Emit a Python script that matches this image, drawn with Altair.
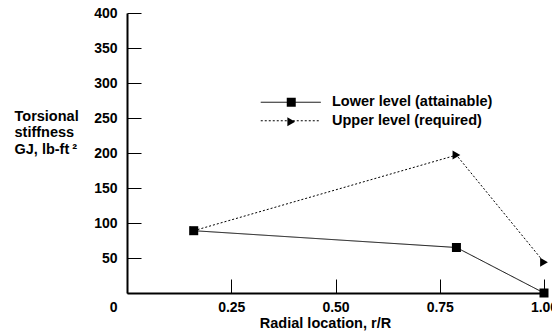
import altair as alt
import pandas as pd

# ---- data ----
series_names = ["Lower level (attainable)", "Upper level (required)"]
radial_lower = [0.16, 0.79, 1.0]
gj_lower = [89, 65, 0]
radial_upper = [0.16, 0.79, 1.0]
gj_upper = [89, 197, 44]
x_ticks = [0.25, 0.5, 0.75, 1.0]
y_ticks = [0, 50, 100, 150, 200, 250, 300, 350, 400]

df = pd.concat([
    pd.DataFrame({"r": radial_upper, "gj": gj_upper, "series": series_names[1]}),
    pd.DataFrame({"r": radial_lower, "gj": gj_lower, "series": series_names[0]}),
], ignore_index=True)

FONT = "Liberation Sans"

x_enc = alt.X("r:Q",
              scale=alt.Scale(domain=[0, 1], nice=False, zero=False),
              axis=alt.Axis(values=x_ticks, format=".2f", grid=False,
                            title="Radial location, r/R",
                            titleX=198, titleY=34, titleBaseline="alphabetic",
                            titleAlign="center",
                            labelFlush=False, labelPadding=21,
                            tickSize={"expr": "-14"}))
y_enc = alt.Y("gj:Q",
              scale=alt.Scale(domain=[0, 400], nice=False),
              axis=alt.Axis(values=y_ticks, grid=False,
                            title=["Torsional", "stiffness", "GJ, lb-ft\u2009²"],
                            titleAngle=0, titleAlign="left", titleBaseline="top",
                            titleX=-113, titleY=96, titleLineHeight=16.5,
                            labelPadding=24,
                            labelOffset={"condition": {"test": "datum.value === 0", "value": 14}, "value": 0},
                            tickSize={"expr": "-14"}))

lines = alt.Chart(df).mark_line(color="black", strokeWidth=1).encode(
    x=x_enc, y=y_enc,
    strokeDash=alt.StrokeDash("series:N",
        scale=alt.Scale(domain=series_names, range=[[1, 0], [2, 2]]),
        legend=alt.Legend(orient="none", legendX=156.5, legendY=82, title=None,
                          symbolType="M-5,0H5", symbolSize=144,
                          symbolStrokeColor="black", symbolStrokeWidth=1,
                          labelFont=FONT, labelFontSize=14.5, labelFontWeight="bold",
                          labelColor="black", labelOffset=34, labelLimit=400,
                          rowPadding=3.5)),
)

points = alt.Chart(df).mark_point(filled=True, color="black", size=81, opacity=1).encode(
    x=x_enc, y=y_enc,
    shape=alt.Shape("series:N",
        scale=alt.Scale(domain=series_names, range=["square", "triangle-right"]),
        legend=alt.Legend(orient="none", legendX=157, legendY=82, title=None,
                          symbolSize=81, symbolFillColor="black",
                          symbolStrokeWidth=0, symbolOpacity=1,
                          labelFontSize=14.5, labelExpr="''", rowPadding=4.5)),
)

chart = alt.layer(lines, points).properties(
    width=417, height=280,
    autosize=alt.AutoSizeParams(type="none"),
    padding={"left": 127, "top": 13, "right": 8, "bottom": 39},
).resolve_legend(strokeDash="independent", shape="independent").configure_view(
    stroke=None
).configure_axis(
    domainColor="black", domainWidth=2, tickColor="black", tickWidth=1,
    labelFont=FONT, labelFontSize=14, labelFontWeight="bold", labelColor="black",
    titleFont=FONT, titleFontSize=14.5, titleFontWeight="bold", titleColor="black",
)

chart.save("out.html", embed_options={"renderer": "svg", "actions": False})
